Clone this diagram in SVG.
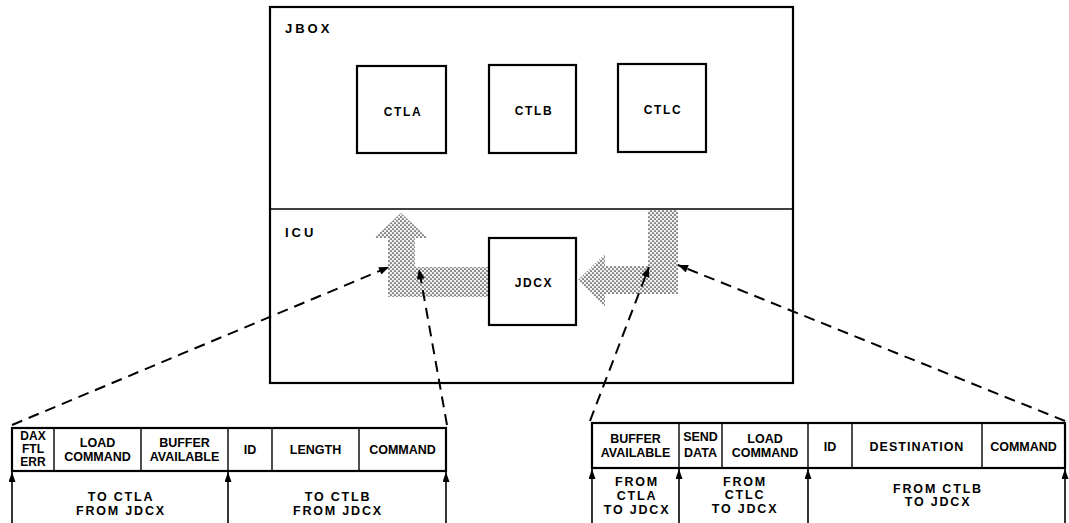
<svg xmlns="http://www.w3.org/2000/svg" width="1069" height="523" viewBox="0 0 1069 523">
<style>
  .bg{fill:#ffffff}
  .box{fill:#ffffff;stroke:#000;stroke-width:2.2}
  .thin{stroke:#000;stroke-width:1.4;fill:none}
  .thick{stroke:#000;stroke-width:2.2;fill:none}
  .big{font-family:"Liberation Sans",Arial,sans-serif;font-weight:bold;font-size:13px;letter-spacing:3px;fill:#000}
  .node{font-family:"Liberation Sans",Arial,sans-serif;font-weight:bold;font-size:12px;letter-spacing:1.6px;fill:#000;text-anchor:middle}
  .hdr{font-family:"Liberation Sans",Arial,sans-serif;font-weight:bold;font-size:12.5px;fill:#000;text-anchor:middle}
  .sm{font-family:"Liberation Sans",Arial,sans-serif;font-weight:bold;font-size:12px;fill:#000;text-anchor:middle}
  .lbl{font-family:"Liberation Sans",Arial,sans-serif;font-weight:bold;font-size:12.5px;letter-spacing:1.8px;fill:#000;text-anchor:middle}
  .dash{stroke:#000;stroke-width:2;fill:none;stroke-dasharray:11 7}
  .up{stroke:#000;stroke-width:1.6;fill:none}
  .shade{fill:url(#stip);stroke:none}
</style>
<defs>
  <pattern id="stip" width="4" height="4" patternUnits="userSpaceOnUse">
    <rect width="4" height="4" fill="#f2f2f2"/>
    <circle cx="1" cy="1" r="0.85" fill="#333"/>
    <circle cx="3" cy="3" r="0.85" fill="#333"/>
  </pattern>
  <marker id="arr" viewBox="0 0 10 8" refX="10" refY="4" markerWidth="11" markerHeight="8" markerUnits="userSpaceOnUse" orient="auto">
    <path d="M0,0 L10,4 L0,8 z" fill="#000"/>
  </marker>
  <marker id="arrs" viewBox="0 0 10 7" refX="10" refY="3.5" markerWidth="10" markerHeight="7" markerUnits="userSpaceOnUse" orient="auto">
    <path d="M0,0 L10,3.5 L0,7 z" fill="#000"/>
  </marker>
</defs>
<rect class="bg" x="0" y="0" width="1069" height="523"/>

<g id="jbox">
  <rect class="box" x="270" y="7" width="523" height="376" stroke-width="2.5"/>
  <text class="big" x="285" y="33">JBOX</text>
</g>
<g id="icu">
  <line class="thin" x1="270" y1="209" x2="793" y2="209"/>
  <text class="big" x="285" y="237">ICU</text>
</g>
<g id="ctla">
  <rect class="box" x="357" y="66" width="89" height="87"/>
  <text class="node" x="403" y="116">CTLA</text>
</g>
<g id="ctlb">
  <rect class="box" x="489" y="65" width="87" height="88"/>
  <text class="node" x="534" y="115">CTLB</text>
</g>
<g id="ctlc">
  <rect class="box" x="618" y="64" width="88" height="88"/>
  <text class="node" x="663" y="114">CTLC</text>
</g>

<g id="flows">
  <polygon class="shade" points="401,213 428,238 415,238 415,267 489,267 489,297 388,297 388,238 374,238"/>
  <polygon class="shade" points="578,280 605,254 605,266 648,266 648,210 678,210 678,294 605,294 605,307"/>
</g>

<g id="jdcx">
  <rect class="box" x="489" y="238" width="87" height="87"/>
  <text class="node" x="534" y="287">JDCX</text>
</g>

<g id="table-left">
  <rect class="thick" x="12" y="428" width="434" height="43"/>
  <line class="thin" x1="54" y1="428" x2="54" y2="471"/>
  <line class="thin" x1="141" y1="428" x2="141" y2="471"/>
  <line class="thin" x1="228" y1="428" x2="228" y2="471"/>
  <line class="thin" x1="272" y1="428" x2="272" y2="471"/>
  <line class="thin" x1="359" y1="428" x2="359" y2="471"/>
  <text class="sm" x="33" y="440">DAX</text>
  <text class="sm" x="33" y="452.5">FTL</text>
  <text class="sm" x="33" y="465.5">ERR</text>
  <text class="hdr" x="97.5" y="447">LOAD</text>
  <text class="hdr" x="97.5" y="461">COMMAND</text>
  <text class="hdr" x="184.5" y="447">BUFFER</text>
  <text class="hdr" x="184.5" y="461">AVAILABLE</text>
  <text class="hdr" x="250" y="454">ID</text>
  <text class="hdr" x="315.5" y="454">LENGTH</text>
  <text class="hdr" x="402.5" y="454">COMMAND</text>
  <text class="lbl" x="121" y="501">TO CTLA</text>
  <text class="lbl" x="121" y="515">FROM JDCX</text>
  <text class="lbl" x="338" y="501">TO CTLB</text>
  <text class="lbl" x="338" y="515">FROM JDCX</text>
</g>

<g id="table-right">
  <rect class="thick" x="592" y="423" width="473" height="45"/>
  <line class="thin" x1="679" y1="423" x2="679" y2="468"/>
  <line class="thin" x1="722" y1="423" x2="722" y2="468"/>
  <line class="thin" x1="808" y1="423" x2="808" y2="468"/>
  <line class="thin" x1="852" y1="423" x2="852" y2="468"/>
  <line class="thin" x1="982" y1="423" x2="982" y2="468"/>
  <text class="hdr" x="635.5" y="443">BUFFER</text>
  <text class="hdr" x="635.5" y="457">AVAILABLE</text>
  <text class="hdr" x="700.5" y="441">SEND</text>
  <text class="hdr" x="700.5" y="457">DATA</text>
  <text class="hdr" x="765" y="443">LOAD</text>
  <text class="hdr" x="765" y="457">COMMAND</text>
  <text class="hdr" x="830" y="451">ID</text>
  <text class="hdr" x="917" y="451" letter-spacing="1">DESTINATION</text>
  <text class="hdr" x="1023.5" y="451">COMMAND</text>
  <text class="lbl" x="637" y="486">FROM</text>
  <text class="lbl" x="637" y="500">CTLA</text>
  <text class="lbl" x="637" y="514">TO JDCX</text>
  <text class="lbl" x="745" y="486">FROM</text>
  <text class="lbl" x="745" y="499">CTLC</text>
  <text class="lbl" x="745" y="513">TO JDCX</text>
  <text class="lbl" x="938" y="493">FROM CTLB</text>
  <text class="lbl" x="938" y="506">TO JDCX</text>
</g>

<g id="connectors">
  <line class="dash" x1="12" y1="425" x2="389" y2="267" marker-end="url(#arr)"/>
  <line class="dash" x1="447" y1="425" x2="419" y2="269" marker-end="url(#arr)"/>
  <line class="dash" x1="590" y1="421" x2="649" y2="267" marker-end="url(#arr)"/>
  <line class="dash" x1="1065" y1="421" x2="678" y2="265" marker-end="url(#arr)"/>
  <line class="up" x1="12" y1="523" x2="12" y2="472" marker-end="url(#arrs)"/>
  <line class="up" x1="228" y1="523" x2="228" y2="472" marker-end="url(#arrs)"/>
  <line class="up" x1="446" y1="523" x2="446" y2="472" marker-end="url(#arrs)"/>
  <line class="up" x1="592" y1="523" x2="592" y2="469" marker-end="url(#arrs)"/>
  <line class="up" x1="679" y1="523" x2="679" y2="469" marker-end="url(#arrs)"/>
  <line class="up" x1="808" y1="523" x2="808" y2="469" marker-end="url(#arrs)"/>
  <line class="up" x1="1065" y1="523" x2="1065" y2="469" marker-end="url(#arrs)"/>
</g>
</svg>
